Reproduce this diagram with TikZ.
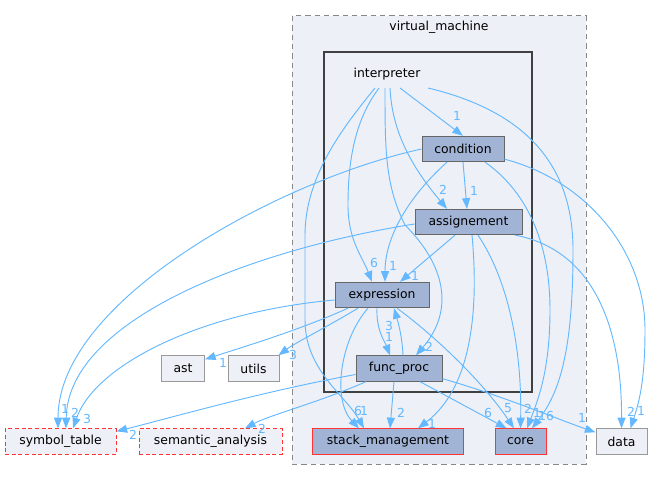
\documentclass[tikz,border=0pt]{standalone}
\usepackage{fontspec}
\setmainfont{DejaVu Sans}
\usetikzlibrary{arrows.meta, calc}
\definecolor{edgeblue}{HTML}{63B8FF}
\definecolor{dirfill}{HTML}{A2B4D6}
\definecolor{clusterfill}{HTML}{EDF0F7}
\definecolor{dirline}{HTML}{666666}
\definecolor{extline}{HTML}{999999}
\definecolor{vmline}{HTML}{888888}
\definecolor{interpline}{HTML}{404040}
\definecolor{missred}{HTML}{FF3333}

\begin{document}
\begin{tikzpicture}[
  x=0.75pt, y=-0.75pt,
  dirnode/.style={draw=#1, line width=0.75pt, minimum height=19pt,
    inner sep=0pt, font=\fontsize{9.3}{11}\selectfont},
  dirnode/.default=dirline,
  indir/.style={dirnode, fill=dirfill},
  reddir/.style={dirnode=missred, fill=dirfill},
  outdir/.style={dirnode=extline, fill=clusterfill},
  missdir/.style={dirnode=missred, fill=clusterfill, dash pattern=on 3pt off 2pt},
  clabel/.style={font=\fontsize{9.3}{11}\selectfont, inner sep=0pt},
  dep/.style={draw=edgeblue, line width=0.7pt, -{Triangle[length=8pt, width=6pt]}},
  elabel/.style={text=edgeblue, font=\fontsize{9.3}{11}\selectfont, inner sep=0pt},
]

\useasboundingbox (0,0) rectangle (653,481);

% Clusters
\draw[vmline, fill=clusterfill, line width=0.75pt, dash pattern=on 4pt off 3pt]
  (292,16) rectangle (586,464);
\node[clabel] (vmlabel) at (439,27) {virtual\_machine};
\draw[interpline, fill=clusterfill, line width=1.5pt] (324,52) rectangle (532,392);
\node[clabel] (interpreter) at (387,74) {interpreter};

% Directories
\node[indir, minimum width=61.5pt] (condition) at (463,149) {condition};
\node[indir, minimum width=80.25pt] (assignement) at (468.5,222) {assignement};
\node[indir, minimum width=70.5pt] (expression) at (382,295) {expression};
\node[indir, minimum width=64.5pt] (func_proc) at (399,368.5) {func\_proc};
\node[reddir, minimum width=113.25pt] (stack_management) at (388,441.5) {stack\_management};
\node[reddir, minimum width=38.25pt] (core) at (520.5,441.5) {core};
\node[outdir, minimum width=38.25pt] (data) at (621.5,441.5) {data};
\node[outdir, minimum width=32.25pt] (ast) at (183,368.5) {ast};
\node[outdir, minimum width=38.25pt] (utils) at (253.5,368.5) {utils};
\node[missdir, minimum width=83.25pt] (symbol_table) at (60.5,441.5) {symbol\_table};
\node[missdir, minimum width=107.25pt] (semantic_analysis) at (210.5,441.5) {semantic\_analysis};

% ============================================================
% From interpreter
% ============================================================
\draw[dep] ($(interpreter)+(13,14)$) -- (condition.north)
  node[elabel, at={(457,116)}] {1};
\draw[dep] ($(interpreter)+(41,14)$) .. controls (520,110) and (573,160) .. (573,250)
  .. controls (573,350) and (560,392) .. ($(core.north)+(11.5,0)$)
  node[elabel, at={(546,416)}] {16};
\draw[dep] ($(interpreter)+(-12,14)$) .. controls (345,125) and (305,175) .. (305,235)
  -- (305,320) .. controls (305,370) and (345,395) .. ($(stack_management.north)+(-24,0)$)
  node[elabel, at={(364,411)}] {1};
\draw[dep] ($(interpreter)+(-8,14)$) .. controls (355,120) and (348,160) .. (348,205)
  .. controls (348,240) and (362,256) .. ($(expression.north)+(-10,0)$)
  node[elabel, at={(374,263)}] {6};
\draw[dep] ($(interpreter)+(-2,14)$) .. controls (385,150) and (385,185) .. (405,225)
  .. controls (445,265) and (455,310) .. ($(func_proc.north)+(17,0)$)
  node[elabel, at={(429,347)}] {2};
\draw[dep] ($(interpreter)+(3,14)$) .. controls (392,130) and (410,165) .. ($(assignement.north)+(-21.5,0)$)
  node[elabel, at={(443,190)}] {2};

% ============================================================
% From condition
% ============================================================
\draw[dep] (condition.west) .. controls (280,180) and (58,300) .. ($(symbol_table.north)+(-2.5,0)$)
  node[elabel, at={(65,409)}] {1};
\draw[dep] ($(condition.south east)+(0,-3)$) .. controls (585,180) and (645,250) .. (645,330)
  .. controls (645,385) and (638,405) .. ($(data.north)+(9,0)$)
  node[elabel, at={(641,411)}] {1};
\draw[dep] ($(condition.south)+(22,0)$) .. controls (525,190) and (550,240) .. (550,310)
  .. controls (550,370) and (538,400) .. ($(core.north)+(6.5,0)$)
  node[elabel, at={(537,413)}] {1};
\draw[dep] ($(condition.south)+(-16,0)$) .. controls (405,200) and (385,240) .. ($(expression.north)+(3,0)$)
  node[elabel, at={(393,266)}] {1};
\draw[dep] (condition.south) -- ($(assignement.north)+(-1.5,0)$)
  node[elabel, at={(474,191)}] {1};

% ============================================================
% From assignement
% ============================================================
\draw[dep] ($(assignement.west)+(0,2)$) .. controls (250,250) and (68,320) .. ($(symbol_table.north)+(5.5,0)$)
  node[elabel, at={(75,413)}] {2};
\draw[dep] ($(assignement.south)+(3.5,0)$) .. controls (478,300) and (475,385) .. ($(stack_management.north)+(30,0)$)
  node[elabel, at={(432,424)}] {1};
\draw[dep] ($(assignement.south)+(9.5,0)$) .. controls (505,275) and (522,340) .. (core.north)
  node[elabel, at={(528,409)}] {2};
\draw[dep] ($(assignement.south)+(46.5,0)$) .. controls (595,250) and (622,330) .. (data.north)
  node[elabel, at={(631,412)}] {2};
\draw[dep] ($(assignement.south)+(-13.5,0)$) -- ($(expression.north)+(18,0)$)
  node[elabel, at={(415,276)}] {1};

% ============================================================
% From expression
% ============================================================
\draw[dep] ($(expression.west)+(0,5)$) .. controls (200,312) and (95,365) .. ($(symbol_table.north)+(12.5,0)$)
  node[elabel, at={(87,419)}] {3};
\draw[dep] ($(expression.south)+(-34,0)$) .. controls (300,330) and (240,348) .. ($(ast.north east)+(0,4)$)
  node[elabel, at={(223,363)}] {1};
\draw[dep] ($(expression.south)+(-24,0)$) .. controls (325,328) and (295,343) .. ($(utils.north east)+(-1,0)$)
  node[elabel, at={(293,355)}] {3};
\draw[dep] ($(expression.south)+(-14,0)$) .. controls (340,340) and (332,400) .. ($(stack_management.north)+(-29,0)$)
  node[elabel, at={(358,411)}] {6};
\draw[dep] ($(expression.south)+(-5,0)$) .. controls (376,330) and (385,342) .. ($(func_proc.north)+(-9,0)$)
  node[elabel, at={(389,337)}] {1};
\draw[dep] ($(expression.south)+(15,0)$) .. controls (440,340) and (485,385) .. ($(core.north)+(-6.5,0)$)
  node[elabel, at={(508,408)}] {5};

% ============================================================
% From func_proc
% ============================================================
\draw[dep] ($(func_proc.north)+(4,0)$) .. controls (402,335) and (398,322) .. ($(expression.south)+(12,0)$)
  node[elabel, at={(389,326)}] {3};
\draw[dep] ($(func_proc.west)+(0,6)$) .. controls (260,392) and (170,418) .. ($(symbol_table.north east)+(0,3)$)
  node[elabel, at={(133,435)}] {2};
\draw[dep] ($(func_proc.south)+(-33,0)$) .. controls (320,402) and (270,415) .. ($(semantic_analysis.north)+(34.5,0)$)
  node[elabel, at={(262,429)}] {2};
\draw[dep] ($(func_proc.south)+(-5,0)$) -- ($(stack_management.north)+(2,0)$)
  node[elabel, at={(401,413)}] {2};
\draw[dep] ($(func_proc.south)+(21,0)$) -- ($(core.north)+(-14,0)$)
  node[elabel, at={(488,413)}] {6};
\draw[dep] ($(func_proc.south east)+(0,-3)$) .. controls (500,395) and (560,420) .. ($(data.north west)+(0,4)$)
  node[elabel, at={(582,418)}] {1};

\end{tikzpicture}
\end{document}
